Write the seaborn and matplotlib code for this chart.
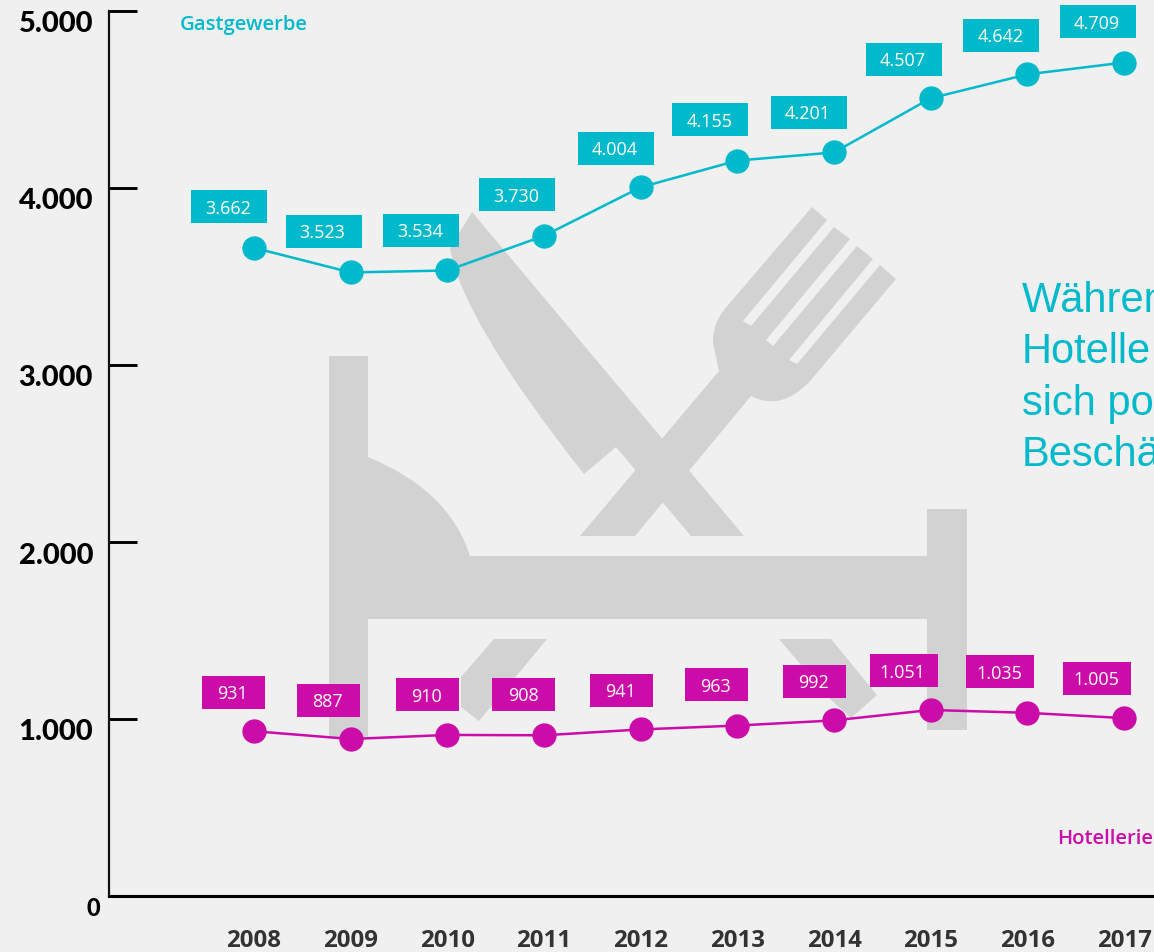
import matplotlib
matplotlib.use("Agg")
import matplotlib.pyplot as plt
import matplotlib.transforms as mtransforms
from matplotlib.patches import PathPatch, Rectangle
from matplotlib.path import Path
import pandas as pd
import seaborn as sns

jahre = [2008, 2009, 2010, 2011, 2012, 2013, 2014, 2015, 2016, 2017]
gastgewerbe = [3662, 3523, 3534, 3730, 4004, 4155, 4201, 4507, 4642, 4709]
hotellerie = [931, 887, 910, 908, 941, 963, 992, 1051, 1035, 1005]
y_ticks = [0, 1000, 2000, 3000, 4000, 5000]
text_zeilen = ["Währen", "Hotelle", "sich po", "Beschä"]

TEAL = "#00B9CB"
MAGENTA = "#CC0CA8"
GRAU = "#D2D2D2"
HINTERGRUND = "#F0F0F0"

# Versatz der Wertelabels zum Punkt, in Pixeln (dx, dy nach oben)
versatz_gast = [(-25, 41), (-27, 41), (-26, 40), (-27, 41), (-25, 39),
                (-27, 41), (-25, 40), (-27, 39), (-26, 39), (-26, 41)]
versatz_hotel = [(-20, 39), (-22, 39), (-20, 40), (-20, 41), (-19, 39),
                 (-21, 41), (-19, 39), (-27, 39), (-27, 41), (-27, 40)]

sns.set_theme(style="white")
plt.rcParams["font.family"] = ["Open Sans", "DejaVu Sans"]

W, H = 1154, 952
fig = plt.figure(figsize=(W / 100, H / 100), dpi=100, facecolor=HINTERGRUND)

# Hintergrund: Besteck-Symbol in Pixelkoordinaten des Bildes
bg = fig.add_axes([0, 0, 1, 1], zorder=0)
bg.set_xlim(0, W)
bg.set_ylim(H, 0)
bg.axis("off")


def form(schritte):
    # Ein Schritt ist (x, y) oder ((kx, ky), (x, y)) fuer eine Kurve
    verts, codes = [], []
    for i, s in enumerate(schritte):
        if isinstance(s[0], tuple):
            verts += [s[0], s[1]]
            codes += [Path.CURVE3, Path.CURVE3]
        else:
            verts.append(s)
            codes.append(Path.MOVETO if i == 0 else Path.LINETO)
    verts.append(verts[0])
    codes.append(Path.CLOSEPOLY)
    return Path(verts, codes)


symbol = [
    # Bett/Teller-Form
    [(329, 356), (368, 356), (368, 457), ((449, 490), (470, 556)),
     (927, 556), (927, 509), (967, 509), (967, 730), (927, 730), (927, 619), (368, 619),
     (368, 738), (329, 738)],
    # Messer
    [(472, 212), (744, 536), (691, 536), (616, 447), (584, 474), ((462, 320), (450, 248))],
    # Gabel
    [(580, 536), (635, 536), (751, 396), ((782, 412), (811, 380)), (896, 279),
     (880, 265), (797, 364), (789, 360), (873, 259), (857, 246), (773, 346), (766, 340),
     (850, 239), (834, 227), (751, 326), (743, 321), (827, 220), (812, 207), (729, 304),
     ((712, 322), (713, 343)), (719, 371)],
    # Reste unter dem Balken
    [(494, 639), (547, 639), (479, 721), (461, 707), (461, 677)],
    [(779, 639), (831, 639), (877, 695), (851, 718), (829, 698)],
]
for schritte in symbol:
    bg.add_patch(PathPatch(form(schritte), facecolor=GRAU, edgecolor="none"))

# Hauptachse
ax = fig.add_axes([109 / W, (H - 896) / H, (W - 109) / W, 885 / H], zorder=1)
ax.patch.set_alpha(0)

df = pd.DataFrame({
    "Jahr": jahre * 2,
    "Wert": gastgewerbe + hotellerie,
    "Branche": ["Gastgewerbe"] * len(jahre) + ["Hotellerie"] * len(jahre),
})
sns.lineplot(data=df, x="Jahr", y="Wert", hue="Branche",
             palette={"Gastgewerbe": TEAL, "Hotellerie": MAGENTA},
             marker="o", markersize=17.5, markeredgewidth=0, linewidth=1.8,
             legend=False, ax=ax)

ax.set_xlim(2008 - 145 / 96.67, 2017 + 30 / 96.67)
ax.set_ylim(0, 5000)
ax.set_xlabel("")
ax.set_ylabel("")
sns.despine(ax=ax)
ax.spines["left"].set_linewidth(1.6)
ax.spines["left"].set_color("#111111")
ax.spines["bottom"].set_linewidth(2.2)
ax.spines["bottom"].set_color("black")

ax.set_xticks(jahre)
ax.set_xticklabels([str(j) for j in jahre], fontsize=17.3, fontweight="bold", color="#333333")
ax.tick_params(axis="x", length=0, pad=24)
ax.set_yticks(y_ticks)
ax.set_yticklabels([f"{v:,}".replace(",", ".") for v in y_ticks],
                   fontsize=21, fontweight="black", family="Lato", color="black")
ax.tick_params(axis="y", direction="in", length=20, width=2.1, color="black", pad=11.5, left=True)
for lab, v in zip(ax.get_yticklabels(), y_ticks):
    if v == 0:
        # die Null steht im Original weiter rechts und ist kleiner
        lab.set_fontsize(17)
        runter = mtransforms.ScaledTranslation(7 / 100, -10 / 100, fig.dpi_scale_trans)
    else:
        runter = mtransforms.ScaledTranslation(0, -11 / 100, fig.dpi_scale_trans)
    lab.set_transform(lab.get_transform() + runter)


def wertelabels(werte, versatz, farbe):
    for jahr, wert, (dx, dy) in zip(jahre, werte, versatz):
        text = f"{wert:,}".replace(",", ".")
        if farbe == TEAL:
            w = 76
        else:
            w = 68 if wert >= 1000 else 63
        h = 33
        trans = fig.dpi_scale_trans + mtransforms.ScaledTranslation(jahr, wert, ax.transData)
        ax.add_patch(Rectangle(((dx - w / 2) / 100, (dy - h / 2) / 100), w / 100, h / 100,
                               transform=trans, facecolor=farbe, edgecolor="none",
                               zorder=4, clip_on=False))
        ax.annotate(text, (jahr, wert), xytext=(dx - 1, dy), textcoords="offset pixels",
                    ha="center", va="center_baseline", color="white", fontsize=13, zorder=5)


wertelabels(gastgewerbe, versatz_gast, TEAL)
wertelabels(hotellerie, versatz_hotel, MAGENTA)

# Beschriftungen
oben = fig.add_axes([0, 0, 1, 1], zorder=2)
oben.set_xlim(0, W)
oben.set_ylim(H, 0)
oben.axis("off")
oben.text(180, 25, "Gastgewerbe", color=TEAL, fontsize=14.6, fontweight="semibold", va="center")
oben.text(1057, 839, "Hotellerie", color=MAGENTA, fontsize=14.6, fontweight="semibold", va="center")
for zeile, y in zip(text_zeilen, [301, 352, 404, 455]):
    oben.text(1022, y, zeile, color=TEAL, fontsize=30, family="Liberation Sans", va="center")

fig.savefig("out.png", dpi=100, facecolor=HINTERGRUND)
